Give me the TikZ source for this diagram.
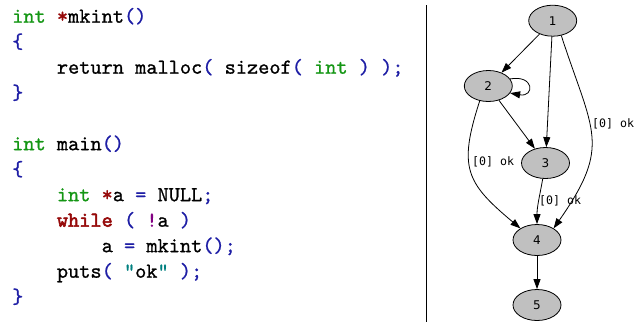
\documentclass[tikz,border=0pt]{standalone}
\usepackage{fontspec}
\usetikzlibrary{arrows.meta,shapes.geometric}
\newfontfamily\djsans{DejaVu Sans}
\newfontfamily\djmono{DejaVu Sans Mono}
\newfontfamily\codefont{lmmono10-regular.otf}[FakeBold=0.9]
\newfontfamily\codebold{lmmono10-regular.otf}[FakeBold=2.6]
\definecolor{kwgreen}{RGB}{20,150,20}
\definecolor{kwred}{RGB}{150,10,10}
\definecolor{punctblue}{RGB}{30,30,165}
\definecolor{strteal}{RGB}{0,128,128}
\definecolor{bangpurple}{RGB}{130,0,130}
\definecolor{nodegray}{RGB}{192,192,192}
\newcommand\cgreen[1]{\textcolor{kwgreen}{#1}}
\newcommand\cred[1]{\textcolor{kwred}{#1}}
\newcommand\cblue[1]{\textcolor{punctblue}{#1}}
\newcommand\cteal[1]{\textcolor{strteal}{#1}}
\newcommand\cpurple[1]{\textcolor{bangpurple}{#1}}
\begin{document}
\begin{tikzpicture}[x=1pt,y=-1pt,
  codeline/.style={anchor=base west,inner sep=0pt,font=\fontsize{21.3}{25.5}\selectfont\codefont},
  gnode/.style={ellipse,draw=black,line width=0.8pt,fill=nodegray,minimum width=48pt,minimum height=31pt,inner sep=0pt,font=\fontsize{12}{14}\selectfont\djsans},
  gedge/.style={draw=black,line width=0.8pt,-{Triangle[length=10pt,width=7pt]}},
  elabel/.style={inner sep=0pt,font=\fontsize{11.6}{13}\selectfont\djmono}]
\useasboundingbox (0,0) rectangle (634,322);
% code
\node[codeline] (l0) at (12,22.7) {\cgreen{int} \cred{*}mkint\cblue{()}};
\node[codeline] (l1) at (12,48.2) {\cblue{\{}};
\node[codeline] (l2) at (56.7,73.7) {return malloc\cblue{(} sizeof\cblue{(} \cgreen{int} \cblue{)} \cblue{);}};
\node[codeline] (l3) at (12,99.2) {\cblue{\}}};
\node[codeline] (l5) at (12,150.2) {\cgreen{int} main\cblue{()}};
\node[codeline] (l6) at (12,175.7) {\cblue{\{}};
\node[codeline] (l7) at (56.7,201.2) {\cgreen{int} \cred{*}a \cblue{=} NULL\cblue{;}};
\node[codeline] (l8) at (56.7,226.7) {\cred{\codebold while} \cblue{(} \cpurple{!}a \cblue{)}};
\node[codeline] (l9) at (101.5,252.2) {a \cblue{=} mkint\cblue{();}};
\node[codeline] (l10) at (56.7,277.7) {puts\cblue{(} \cteal{"}ok\cteal{"} \cblue{);}};
\node[codeline] (l11) at (12,303.2) {\cblue{\}}};
% divider
\coordinate (dtop) at (426,5);
\coordinate (dbot) at (426,322);
\draw[line width=0.9pt] (dtop) -- (dbot);
% graph
\node[gnode] (n1) at (552.7,20.7) {1};
\node[gnode] (n2) at (488.3,86) {2};
\node[gnode] (n3) at (545.5,163) {3};
\node[gnode] (n4) at (537,240) {4};
\node[gnode] (n5) at (537,305) {5};
\draw[gedge] (n1) -- (n2);
\draw[gedge] (n1) -- (n3);
\draw[gedge] (n1.-60) to[out=-72,in=55,looseness=1.35] (n4.35);
\draw[gedge] (n2.18) to[out=10,in=-10,looseness=4.5] (n2.-18);
\draw[gedge] (n2) -- (n3);
\draw[gedge] (n2.-120) to[out=-108,in=140,looseness=1.35] (n4.145);
\draw[gedge] (n3) to[out=-100,in=90] (n4);
\draw[gedge] (n4) -- (n5);
\node[elabel,anchor=west] (lab14) at (592,124) {[0] ok};
\node[elabel,anchor=west] (lab24) at (472,162) {[0] ok};
\node[elabel,anchor=west] (lab34) at (539,201) {[0] ok};
\end{tikzpicture}
\end{document}
